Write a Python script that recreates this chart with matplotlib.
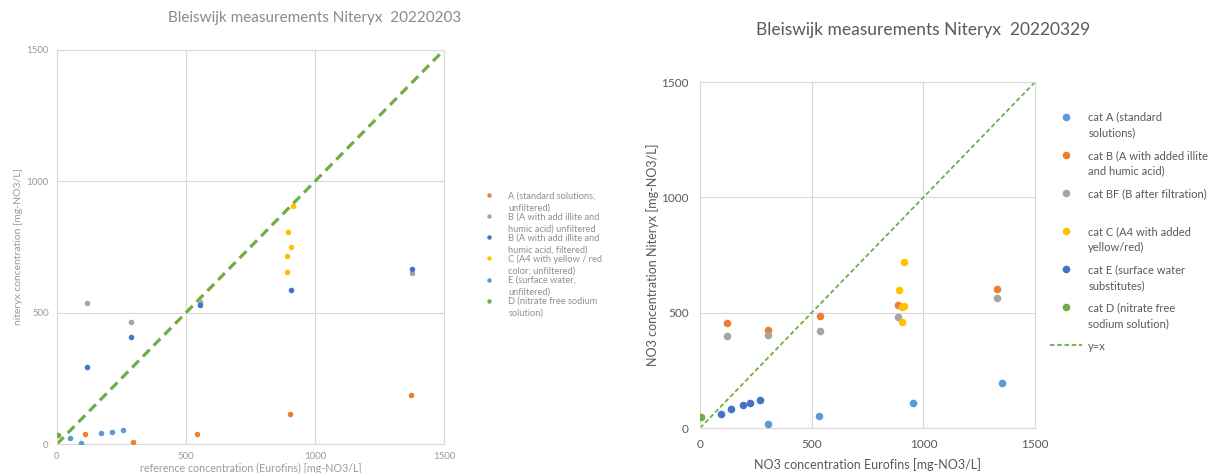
import matplotlib
matplotlib.use("Agg")
import matplotlib.pyplot as plt

plt.rcParams['font.family'] = ['Lato', 'DejaVu Sans']

# ---------------- data: left panel (20220203) ----------------
L_A_x = [110, 293, 542, 903, 1372]
L_A_y = [38, 8, 38, 113, 187]
L_Bu_x = [116, 288, 553, 1378]
L_Bu_y = [538, 464, 540, 652]
L_Bf_x = [116, 288, 555, 909, 1378]
L_Bf_y = [294, 407, 530, 586, 667]
L_C_x = [915, 897, 909, 890, 890]
L_C_y = [907, 806, 750, 716, 654]
L_E_x = [52, 92, 171, 213, 257]
L_E_y = [24, 5, 42, 47, 53]
L_D_x = [3]
L_D_y = [34]

L_labels = ["A (standard solutions,\nunfiltered)",
            "B (A with add illite and\nhumic acid) unfiltered",
            "B (A with add illite and\nhumic acid, filtered)",
            "C (A4 with yellow / red\ncolor; unfiltered)",
            "E (surface water,\nunfiltered)",
            "D (nitrate free sodium\nsolution)"]

# ---------------- data: right panel (20220329) ----------------
R_A_x = [304, 531, 954, 1352]
R_A_y = [17, 54, 110, 195]
R_B_x = [119, 303, 536, 885, 1328]
R_B_y = [456, 424, 484, 533, 604]
R_BF_x = [119, 303, 536, 885, 1328]
R_BF_y = [398, 402, 420, 482, 563]
R_C_x = [912, 890, 903, 912, 903]
R_C_y = [718, 598, 523, 528, 458]
R_E_x = [93, 139, 193, 225, 267]
R_E_y = [61, 84, 101, 110, 123]
R_D_x = [4]
R_D_y = [48]

R_labels = ["cat A (standard\nsolutions)",
            "cat B (A with added illite\nand humic acid)",
            "cat BF (B after filtration)\n ",
            "cat C (A4 with added\nyellow/red)",
            "cat E (surface water\nsubstitutes)",
            "cat D (nitrate free\nsodium solution)",
            "y=x"]

ticks = [0, 500, 1000, 1500]
diag = [0, 1500]

ORANGE = "#ED7D31"; GRAY = "#A5A5A5"; DBLUE = "#4472C4"
YELLOW = "#FFC000"; LBLUE = "#5B9BD5"; GREEN = "#70AD47"
GRID = "#d9d9d9"


def top_align(leg, linespacing):
    # put each legend marker next to the first line of its label
    for t in leg.get_texts():
        t.set_linespacing(linespacing)
    for col in leg._legend_handle_box.get_children():
        for item in col.get_children():
            item.align = "top"


fig = plt.figure(figsize=(12.2, 4.73), dpi=100)

# ---------- left ----------
axL = fig.add_axes([0.0467, 0.0613, 0.3172, 0.8330])
axL.plot(diag, diag, ls=(0, (3, 1.8)), color=GREEN, lw=2.3, zorder=2)
sL = 16
for xs, ys, c, lab in [(L_A_x, L_A_y, ORANGE, L_labels[0]),
                       (L_Bu_x, L_Bu_y, GRAY, L_labels[1]),
                       (L_Bf_x, L_Bf_y, DBLUE, L_labels[2]),
                       (L_C_x, L_C_y, YELLOW, L_labels[3]),
                       (L_E_x, L_E_y, LBLUE, L_labels[4]),
                       (L_D_x, L_D_y, GREEN, L_labels[5])]:
    axL.scatter(xs, ys, s=sL, color=c, label=lab, zorder=3, linewidths=0)
axL.set_xlim(0, 1500); axL.set_ylim(0, 1500)
axL.set_xticks(ticks); axL.set_yticks(ticks)
axL.grid(True, color=GRID, lw=0.8)
axL.set_axisbelow(True)
for sp in axL.spines.values():
    sp.set_color(GRID); sp.set_linewidth(0.8)
axL.tick_params(length=0, labelsize=7, labelcolor="#9a9a9a", pad=6)
axL.set_xlabel("reference concentration (Eurofins) [mg-NO3/L]", fontsize=7.7, color="#9a9a9a", labelpad=1)
axL.set_ylabel("niteryx concentration [mg-NO3/L]", fontsize=7.5, color="#9a9a9a", labelpad=2)
fig.text(0.2575, 0.962, "Bleiswijk measurements Niteryx  20220203", ha="center", va="center",
         fontsize=11, color="#8a8a8a")
hL, lL = axL.get_legend_handles_labels()
legL = fig.legend(hL, lL, loc="upper left", bbox_to_anchor=(0.3896, 0.613), frameon=False,
                  fontsize=6.7, labelcolor="#8f8f8f", handletextpad=1.45, labelspacing=0.0,
                  markerscale=0.8, handlelength=1.2, handleheight=0.6)
top_align(legL, 1.43)

# ---------- right ----------
axR = fig.add_axes([0.5738, 0.0951, 0.2746, 0.7315])
axR.plot(diag, diag, ls=(0, (2.5, 1.5)), color=GREEN, lw=1.3, zorder=2, label=R_labels[6])
sR = 30
for xs, ys, c, lab in [(R_A_x, R_A_y, LBLUE, R_labels[0]),
                       (R_B_x, R_B_y, ORANGE, R_labels[1]),
                       (R_BF_x, R_BF_y, GRAY, R_labels[2]),
                       (R_C_x, R_C_y, YELLOW, R_labels[3]),
                       (R_E_x, R_E_y, DBLUE, R_labels[4]),
                       (R_D_x, R_D_y, GREEN, R_labels[5])]:
    axR.scatter(xs, ys, s=sR, color=c, label=lab, zorder=3, linewidths=0)
axR.set_xlim(0, 1500); axR.set_ylim(0, 1500)
axR.set_xticks(ticks); axR.set_yticks(ticks)
axR.grid(True, color=GRID, lw=0.8)
axR.set_axisbelow(True)
for sp in axR.spines.values():
    sp.set_color(GRID); sp.set_linewidth(0.8)
axR.tick_params(length=0, labelsize=8.5, labelcolor="#595959", pad=8)
axR.set_xlabel("NO3 concentration Eurofins [mg-NO3/L]", fontsize=9, color="#595959", labelpad=6)
axR.set_ylabel("NO3 concentration Niteryx [mg-NO3/L]", fontsize=9, color="#595959", labelpad=2)
fig.text(0.757, 0.936, "Bleiswijk measurements Niteryx  20220329", ha="center", va="center",
         fontsize=12.5, color="#595959")
hR, lR = axR.get_legend_handles_labels()
# reorder so y=x is last
hR = hR[1:] + hR[:1]; lR = lR[1:] + lR[:1]
legR = fig.legend(hR, lR, loc="upper left", bbox_to_anchor=(0.8525, 0.785), frameon=False,
                  fontsize=8.0, labelcolor="#595959", handletextpad=0.54, labelspacing=1.05,
                  handlelength=2.9, handleheight=0.7)
top_align(legR, 1.5)

fig.savefig("out.png", dpi=100)
